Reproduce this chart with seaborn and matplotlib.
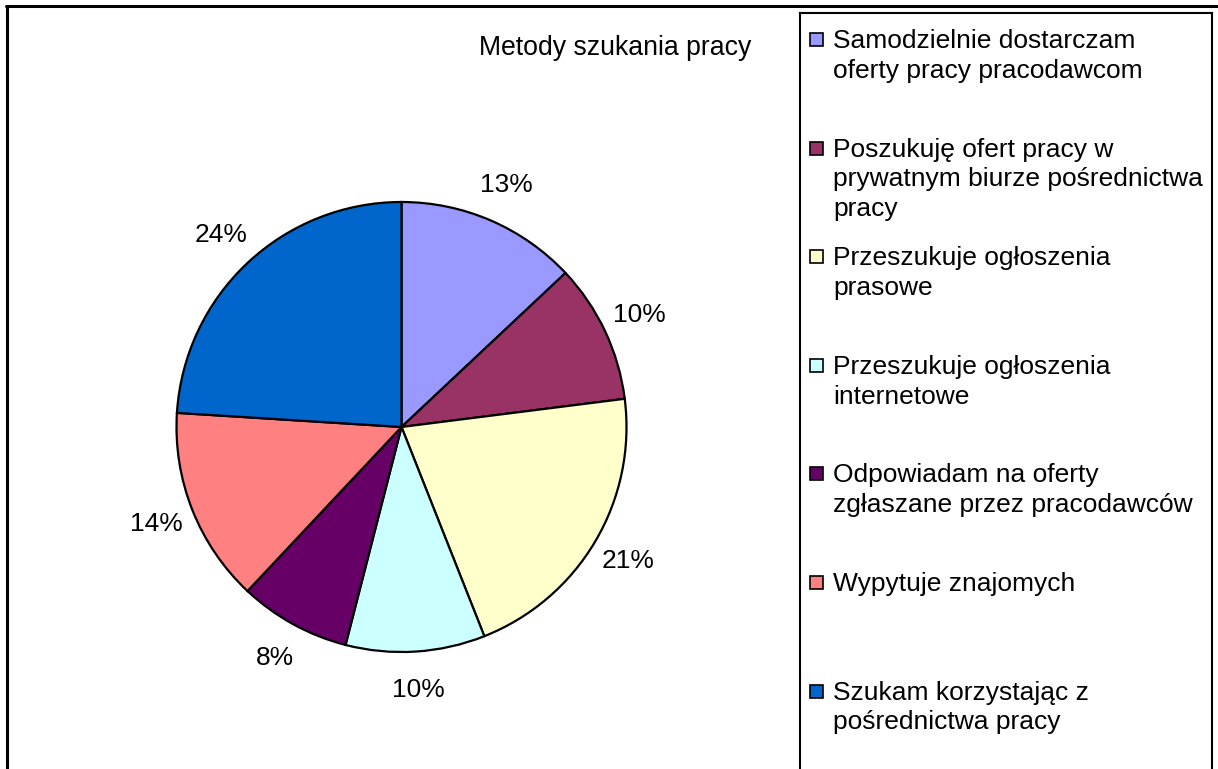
import matplotlib
matplotlib.use("Agg")
import matplotlib.pyplot as plt
from matplotlib.lines import Line2D
from matplotlib.patches import Rectangle
import seaborn as sns

# data
categories = [
    "Samodzielnie dostarczam\noferty pracy pracodawcom",
    "Poszukuję ofert pracy w\nprywatnym biurze pośrednictwa\npracy",
    "Przeszukuje ogłoszenia\nprasowe",
    "Przeszukuje ogłoszenia\ninternetowe",
    "Odpowiadam na oferty\nzgłaszane przez pracodawców",
    "Wypytuje znajomych",
    "Szukam korzystając z\npośrednictwa pracy",
]
shares = [13, 10, 21, 10, 8, 14, 24]
colors = ["#9999FF", "#993366", "#FFFFCC", "#CCFFFF", "#660066", "#FF8080", "#0066CC"]
title = "Metody szukania pracy"

sns.set_theme(style="white")
plt.rcParams["font.family"] = ["Liberation Sans", "DejaVu Sans"]
plt.rcParams["text.color"] = "black"

W, H = 1218, 769
fig = plt.figure(figsize=(W / 100, H / 100), dpi=100)
fig.patch.set_facecolor("white")


def fx(px):
    return px / W


def fy(py):
    return 1 - py / H


# outer frame (left and top edges only visible)
fig.add_artist(Line2D([fx(7), fx(7)], [fy(5.5), fy(H + 5)], color="black", lw=2.2))
fig.add_artist(Line2D([fx(6), fx(W + 5)], [fy(6), fy(6)], color="black", lw=2.2))

# pie
ax = fig.add_axes([fx(176), fy(652), fx(627) - fx(176), fy(202) - fy(652)])
wedges, _, autotexts = ax.pie(
    shares,
    colors=colors,
    startangle=90,
    counterclock=False,
    autopct="%1.0f%%",
    pctdistance=1.17,
    wedgeprops=dict(edgecolor="black", linewidth=1.6),
    textprops=dict(fontsize=19, color="black"),
)
ax.set_xlim(-1, 1)
ax.set_ylim(-1, 1)
ax.set_aspect("equal")

fig.text(fx(615), fy(48), title, fontsize=19.2, ha="center", va="center", color="black")

# legend box
lax = fig.add_axes([fx(800), fy(800), fx(1212) - fx(800), fy(13) - fy(800)])
lax.set_xlim(0, 412)
lax.set_ylim(787, 0)
lax.set_xticks([])
lax.set_yticks([])
for s in lax.spines.values():
    s.set_color("black")
    s.set_linewidth(1.5)

step = 108.6
for i, (lab, col) in enumerate(zip(categories, colors)):
    y0 = 16 + i * step
    lax.text(33, y0, lab, fontsize=19, va="top", ha="left", linespacing=1.3, color="black")
    lax.add_patch(Rectangle((10, y0 + 4), 13, 13, facecolor=col, edgecolor="black", lw=1.2))

fig.savefig("out.png", dpi=100)
